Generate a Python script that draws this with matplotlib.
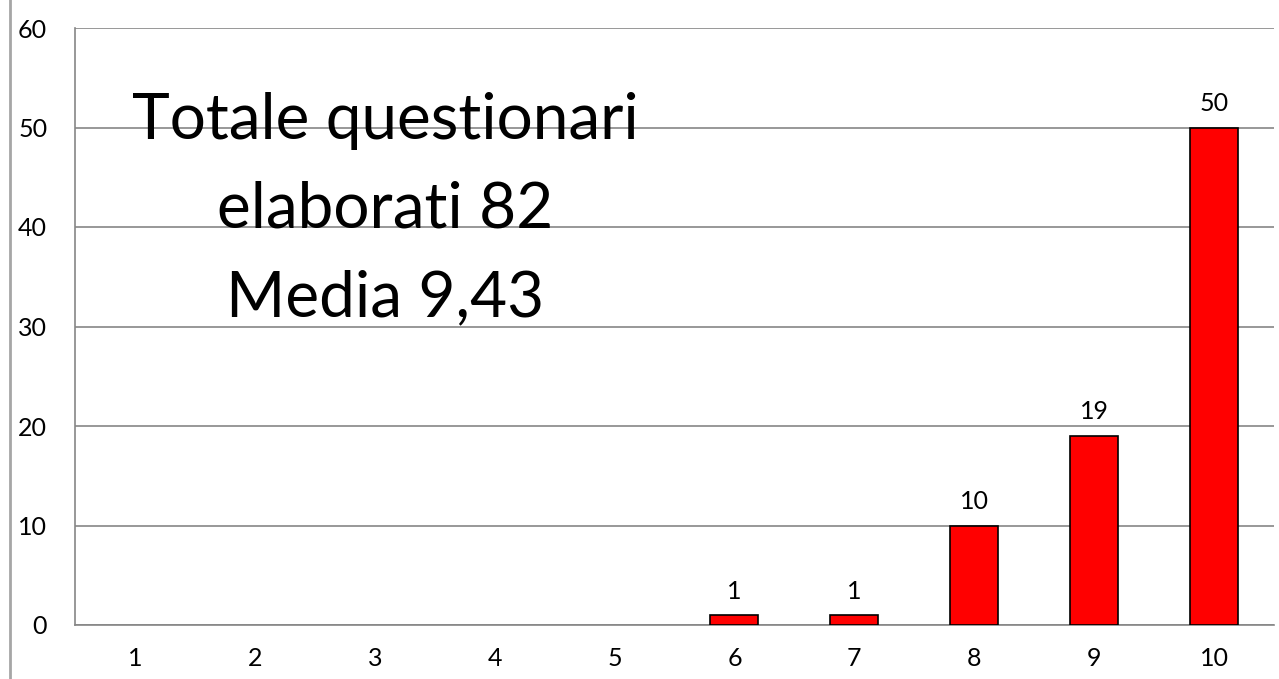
import matplotlib.pyplot as plt
from matplotlib.lines import Line2D

voti = [1, 2, 3, 4, 5, 6, 7, 8, 9, 10]
conteggi = [0, 0, 0, 0, 0, 1, 1, 10, 19, 50]
y_ticks = [0, 10, 20, 30, 40, 50, 60]
testo = "Totale questionari\nelaborati 82\nMedia 9,43"

plt.rcParams["font.family"] = ["Lato", "DejaVu Sans"]

fig = plt.figure(figsize=(12.79, 6.79), dpi=100)
ax = fig.add_axes([75 / 1279, 54 / 679, 1199 / 1279, 597 / 679])

grey = "#868686"
edges = ["black" if c else "none" for c in conteggi]
bars = ax.bar(voti, conteggi, width=0.4, color="#ff0000", edgecolor=edges,
              linewidth=1.2, zorder=3)
labels = [str(c) if c else "" for c in conteggi]
ax.bar_label(bars, labels=labels, padding=9, fontsize=18)

ax.set_xlim(0.5, 10.5)
ax.set_ylim(0, 60)
ax.set_xticks(voti)
ax.set_yticks(y_ticks)
ax.tick_params(axis="both", length=0, labelsize=18)
ax.tick_params(axis="x", pad=16)
ax.tick_params(axis="y", pad=20)

ax.grid(axis="y", color=grey, linewidth=1.2, zorder=0)
for s in ["top", "right"]:
    ax.spines[s].set_visible(False)
for s in ["left", "bottom"]:
    ax.spines[s].set_color(grey)
    ax.spines[s].set_linewidth(1.2)

fig.text(385 / 1279, (679 - 210) / 679, testo, ha="center", va="center",
         fontsize=46, linespacing=1.65)

fig.add_artist(Line2D([9.5 / 1279, 9.5 / 1279], [0, 1], color="#a6a6a6",
                      linewidth=2))

fig.savefig("out.png", dpi=100, facecolor="white")
